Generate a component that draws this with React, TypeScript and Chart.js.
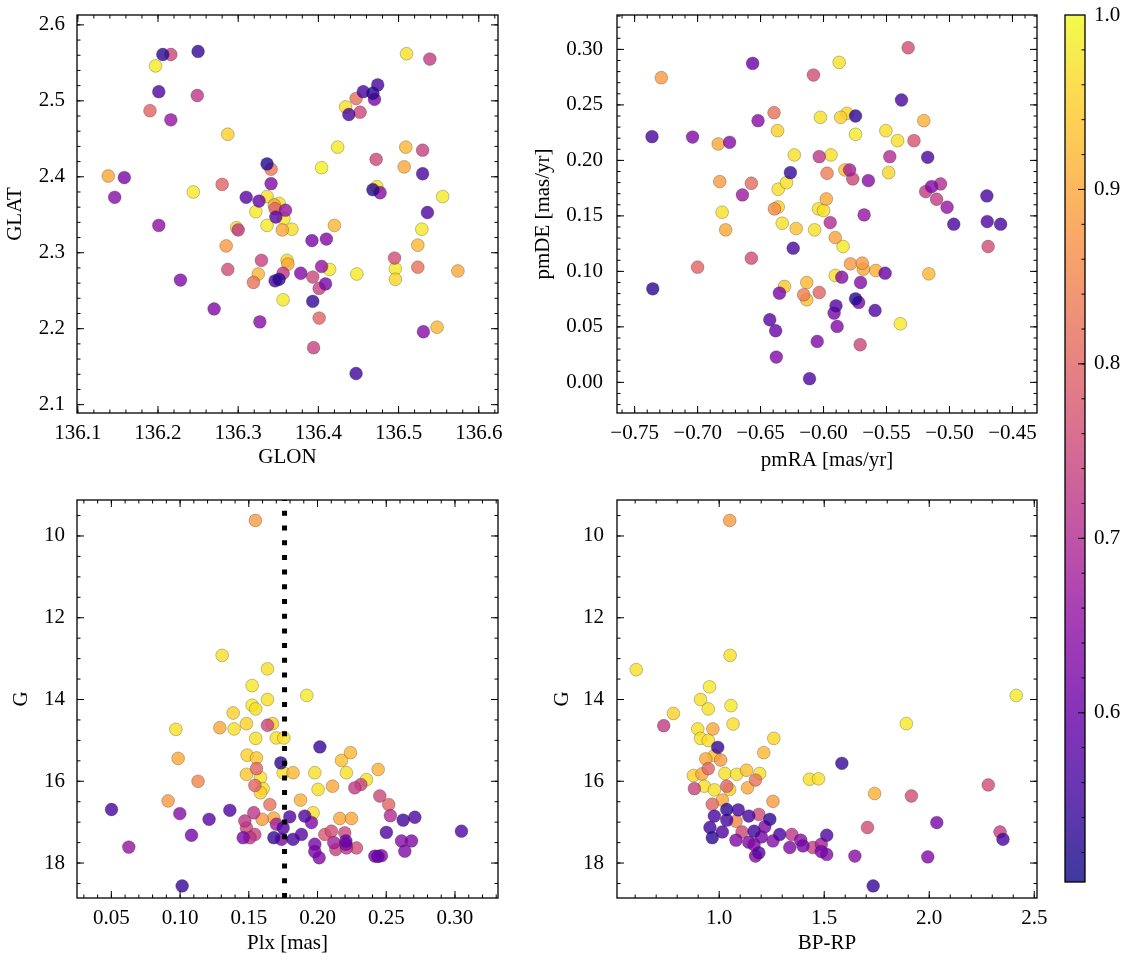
import React, { useEffect, useRef } from "react";
import { Chart, registerables } from "chart.js";

Chart.register(...registerables);

const FONT_FAMILY = '"Liberation Serif", "Times New Roman", serif';
const FONT_SIZE = 21;

// ---------- Panel 1: GLON / GLAT ----------
const glon = [
  136.206, 136.216, 136.197, 136.25, 136.201, 136.249, 136.19, 136.216, 136.287, 136.138,
  136.158, 136.146, 136.244, 136.201, 136.28, 136.228, 136.27, 136.285, 136.287, 136.3,
  136.298, 136.31, 136.326, 136.336, 136.341, 136.341, 136.322, 136.336, 136.336, 136.345,
  136.351, 136.346, 136.347, 136.359, 136.355, 136.357, 136.367, 136.424, 136.404, 136.42,
  136.392, 136.41, 136.329, 136.325, 136.319, 136.346, 136.351, 136.356, 136.362, 136.361,
  136.378, 136.356, 136.327, 136.393, 136.401, 136.404, 136.409, 136.414, 136.393, 136.401,
  136.394, 136.447, 136.448, 136.434, 136.438, 136.447, 136.452, 136.456, 136.468, 136.47,
  136.474, 136.472, 136.468, 136.473, 136.477, 136.495, 136.496, 136.496, 136.509, 136.507,
  136.51, 136.539, 136.53, 136.53, 136.536, 136.555, 136.529, 136.524, 136.524, 136.574,
  136.548, 136.531,
];
const glat = [
  2.561, 2.561, 2.546, 2.565, 2.512, 2.507, 2.487, 2.475, 2.456, 2.401,
  2.399, 2.373, 2.38, 2.336, 2.39, 2.264, 2.226, 2.309, 2.278, 2.33,
  2.333, 2.373, 2.368, 2.417, 2.41, 2.391, 2.354, 2.374, 2.336, 2.363,
  2.365, 2.358, 2.347, 2.356, 2.33, 2.345, 2.331, 2.439, 2.412, 2.336,
  2.316, 2.318, 2.29, 2.272, 2.261, 2.263, 2.265, 2.273, 2.285, 2.29,
  2.273, 2.238, 2.209, 2.268, 2.253, 2.282, 2.259, 2.278, 2.236, 2.214,
  2.175, 2.141, 2.272, 2.492, 2.482, 2.503, 2.485, 2.512, 2.51, 2.502,
  2.521, 2.423, 2.383, 2.387, 2.379, 2.293, 2.279, 2.265, 2.439, 2.413,
  2.562, 2.555, 2.435, 2.404, 2.353, 2.374, 2.331, 2.31, 2.281, 2.276,
  2.202, 2.196,
];
const probPos = [
  0.53, 0.75, 0.98, 0.54, 0.57, 0.72, 0.8, 0.66, 0.95, 0.9,
  0.62, 0.64, 0.98, 0.65, 0.8, 0.63, 0.63, 0.88, 0.76, 0.72,
  0.97, 0.58, 0.6, 0.52, 0.83, 0.63, 0.98, 0.97, 0.98, 0.9,
  0.97, 0.8, 0.58, 0.66, 0.9, 0.98, 0.97, 0.98, 0.99, 0.92,
  0.62, 0.63, 0.74, 0.92, 0.82, 0.56, 0.53, 0.72, 0.9, 0.96,
  0.63, 0.98, 0.64, 0.75, 0.74, 0.66, 0.62, 0.98, 0.54, 0.8,
  0.74, 0.55, 0.98, 0.97, 0.56, 0.82, 0.75, 0.56, 0.53, 0.62,
  0.56, 0.75, 0.52, 0.97, 0.64, 0.76, 0.98, 0.96, 0.92, 0.9,
  0.97, 0.73, 0.74, 0.56, 0.57, 0.98, 0.98, 0.92, 0.82, 0.9,
  0.92, 0.64,
];

// ---------- Panel 2: pmRA / pmDE ----------
const pmRA = [
  -0.7362, -0.7288, -0.7356, -0.704, -0.7, -0.6836, -0.6746, -0.6824, -0.6805, -0.6777,
  -0.6644, -0.6573, -0.6563, -0.652, -0.6393, -0.6365, -0.6573, -0.636, -0.639, -0.636,
  -0.6294, -0.6263, -0.6232, -0.6328, -0.6217, -0.6241, -0.631, -0.635, -0.6427, -0.638,
  -0.6375, -0.6133, -0.6133, -0.6158, -0.6034, -0.605, -0.6111, -0.608, -0.6025, -0.6034,
  -0.604, -0.6, -0.5978, -0.5972, -0.6071, -0.5941, -0.5947, -0.5907, -0.5845, -0.5876,
  -0.5864, -0.5814, -0.5746, -0.5746, -0.583, -0.5793, -0.5768, -0.5644, -0.5678, -0.5907,
  -0.5855, -0.5786, -0.5693, -0.5684, -0.5585, -0.5511, -0.5706, -0.5746, -0.5721, -0.5901,
  -0.5916, -0.5892, -0.5709, -0.5591, -0.539, -0.5505, -0.5412, -0.5483, -0.5474, -0.5381,
  -0.5328, -0.5282, -0.5204, -0.5173, -0.5189, -0.5142, -0.5071, -0.5102, -0.5019, -0.4966,
  -0.5164, -0.4703, -0.47, -0.4594, -0.4693,
];
const pmDE = [
  0.2214, 0.2745, 0.0843, 0.221, 0.1038, 0.2148, 0.2163, 0.1809, 0.1533, 0.1374,
  0.1689, 0.1794, 0.2874, 0.2358, 0.243, 0.2268, 0.1119, 0.158, 0.1563, 0.174,
  0.18, 0.189, 0.2049, 0.1434, 0.1386, 0.1209, 0.0864, 0.0804, 0.0564, 0.0465,
  0.0228, 0.09, 0.0744, 0.0789, 0.081, 0.0369, 0.0033, 0.2769, 0.2388, 0.2034,
  0.1563, 0.1548, 0.1653, 0.1884, 0.1374, 0.2049, 0.144, 0.1305, 0.1224, 0.2883,
  0.2388, 0.2424, 0.24, 0.2235, 0.1914, 0.1914, 0.1833, 0.1818, 0.1509, 0.0963,
  0.0948, 0.1068, 0.1074, 0.102, 0.1008, 0.0984, 0.09, 0.0753, 0.072, 0.069,
  0.0624, 0.0504, 0.0339, 0.0648, 0.0528, 0.2268, 0.2178, 0.189, 0.2034, 0.2544,
  0.3015, 0.2178, 0.2358, 0.2028, 0.1719, 0.1764, 0.1788, 0.165, 0.1578, 0.1425,
  0.0978, 0.168, 0.1449, 0.1425, 0.1224,
];
const probPM = [
  0.56, 0.88, 0.53, 0.63, 0.8, 0.9, 0.64, 0.88, 0.97, 0.9,
  0.67, 0.81, 0.6, 0.64, 0.82, 0.95, 0.76, 0.95, 0.86, 0.97,
  0.97, 0.54, 0.97, 0.97, 0.93, 0.56, 0.94, 0.62, 0.58, 0.6,
  0.63, 0.92, 0.93, 0.84, 0.8, 0.63, 0.57, 0.76, 0.97, 0.72,
  0.97, 0.97, 0.9, 0.84, 0.97, 0.97, 0.7, 0.89, 0.98, 0.97,
  0.95, 0.96, 0.53, 0.98, 0.93, 0.68, 0.75, 0.64, 0.66, 0.97,
  0.64, 0.88, 0.88, 0.9, 0.91, 0.6, 0.64, 0.52, 0.62, 0.57,
  0.62, 0.63, 0.75, 0.57, 0.98, 0.97, 0.97, 0.96, 0.7, 0.56,
  0.76, 0.77, 0.91, 0.56, 0.73, 0.63, 0.7, 0.73, 0.66, 0.56,
  0.92, 0.56, 0.57, 0.56, 0.76,
];

// ---------- Panel 3: Plx / G ----------
const plx = [
  0.1548, 0.1306, 0.1636, 0.1524, 0.1636, 0.1922, 0.1524, 0.155, 0.1386, 0.0969,
  0.1289, 0.1393, 0.1483, 0.1636, 0.1672, 0.155, 0.17, 0.1755, 0.0986, 0.1488,
  0.1556, 0.1733, 0.1556, 0.2017, 0.1131, 0.1483, 0.1585, 0.1544, 0.1604, 0.1585,
  0.175, 0.1822, 0.198, 0.2004, 0.2109, 0.2174, 0.224, 0.221, 0.2356, 0.2441,
  0.2271, 0.2315, 0.0913, 0.1653, 0.1876, 0.1968, 0.1682, 0.1597, 0.1536, 0.0501,
  0.0998, 0.1211, 0.1362, 0.1083, 0.0627, 0.1015, 0.2162, 0.2247, 0.2453, 0.2518,
  0.253, 0.2623, 0.2708, 0.2501, 0.3047, 0.2611, 0.2684, 0.2635, 0.2417, 0.2465,
  0.244, 0.198, 0.198, 0.2012, 0.2053, 0.2101, 0.2198, 0.2118, 0.2206, 0.2133,
  0.2211, 0.2283, 0.2206, 0.1798, 0.1907, 0.1956, 0.1883, 0.1822, 0.175, 0.1701,
  0.1682, 0.1738, 0.1471, 0.1483, 0.1544, 0.1459, 0.1508,
];
const gPlx = [
  9.62, 12.92, 13.25, 13.66, 14.0, 13.9, 14.14, 14.23, 14.33, 14.73,
  14.69, 14.72, 14.59, 14.63, 14.59, 14.95, 14.94, 14.94, 15.44, 15.36,
  15.43, 15.55, 15.69, 15.16, 16.0, 15.83, 15.91, 16.1, 16.18, 16.28,
  15.79, 15.79, 15.79, 16.2, 16.12, 15.49, 15.3, 15.79, 15.96, 15.71,
  16.16, 16.08, 16.48, 16.57, 16.46, 16.77, 16.9, 16.93, 16.77, 16.69,
  16.79, 16.93, 16.71, 17.32, 17.61, 18.56, 16.91, 16.91, 16.36, 16.57,
  16.84, 16.95, 16.88, 17.25, 17.22, 17.46, 17.46, 17.71, 17.83, 17.82,
  17.84, 17.54, 17.72, 17.87, 17.3, 17.22, 17.26, 17.5, 17.54, 17.67,
  17.63, 17.63, 17.46, 16.87, 16.85, 17.01, 17.3, 17.42, 17.14, 17.05,
  17.38, 17.42, 16.97, 17.14, 17.3, 17.38, 17.38,
];
const probPlx = [
  0.88, 0.97, 0.97, 0.98, 0.97, 0.98, 0.98, 0.97, 0.95, 0.97,
  0.9, 0.97, 0.95, 0.75, 0.95, 0.97, 0.97, 0.97, 0.9, 0.95,
  0.94, 0.53, 0.8, 0.54, 0.85, 0.94, 0.97, 0.8, 0.97, 0.95,
  0.97, 0.92, 0.97, 0.97, 0.9, 0.93, 0.92, 0.97, 0.97, 0.91,
  0.73, 0.74, 0.88, 0.82, 0.91, 0.97, 0.9, 0.88, 0.72, 0.56,
  0.64, 0.58, 0.57, 0.62, 0.66, 0.54, 0.9, 0.9, 0.75, 0.8,
  0.7, 0.55, 0.57, 0.57, 0.57, 0.64, 0.63, 0.63, 0.62, 0.64,
  0.6, 0.62, 0.62, 0.63, 0.78, 0.76, 0.75, 0.68, 0.64, 0.74,
  0.72, 0.76, 0.6, 0.57, 0.57, 0.63, 0.58, 0.56, 0.57, 0.68,
  0.54, 0.63, 0.72, 0.75, 0.74, 0.62, 0.72,
];
const PLX_CUT = 0.176;

// ---------- Panel 4: BP-RP / G ----------
const bpRp = [
  1.05, 1.052, 0.605, 0.954, 0.911, 0.948, 1.056, 0.782, 0.736, 0.898,
  0.97, 1.066, 0.911, 0.948, 1.26, 0.993, 1.212, 1.584, 1.891, 2.414,
  1.74, 1.915, 2.281, 1.706, 2.036, 2.337, 2.351, 1.993, 1.646, 1.733,
  1.43, 1.473, 1.256, 0.936, 1.007, 0.977, 0.948, 0.877, 0.918, 1.027,
  1.083, 1.13, 1.193, 1.173, 1.135, 1.036, 1.05, 0.882, 0.929, 0.977,
  1.015, 0.967, 1.036, 1.091, 0.977, 1.036, 1.08, 1.141, 1.189, 1.241,
  1.217, 0.956, 0.967, 1.015, 1.109, 1.166, 1.201, 1.08, 1.141, 1.166,
  1.189, 1.173, 1.256, 1.288, 1.346, 1.336, 1.388, 1.399, 1.446, 1.486,
  1.486, 1.512, 1.512,
];
const gCmd = [
  9.62, 12.92, 13.27, 13.69, 14.0, 14.23, 14.15, 14.34, 14.64, 14.72,
  14.72, 14.6, 14.95, 15.0, 14.95, 15.17, 15.3, 15.56, 14.59, 13.9,
  16.3, 16.36, 16.09, 17.13, 17.01, 17.24, 17.42, 17.85, 17.83, 18.56,
  15.95, 15.94, 16.49, 15.45, 15.48, 15.37, 15.69, 15.86, 15.82, 15.81,
  15.83, 15.73, 15.81, 15.97, 16.16, 16.12, 16.2, 16.18, 16.12, 16.21,
  16.46, 16.56, 16.69, 16.7, 16.85, 16.95, 16.98, 16.85, 16.81, 16.93,
  17.11, 17.13, 17.38, 17.24, 17.24, 17.22, 17.36, 17.44, 17.49, 17.55,
  17.75, 17.83, 17.46, 17.3, 17.3, 17.62, 17.44, 17.58, 17.62, 17.54,
  17.72, 17.32, 17.79,
];
const probCmd = [
  0.88, 0.97, 0.97, 0.98, 0.97, 0.97, 0.98, 0.95, 0.73, 0.97,
  0.9, 0.97, 0.97, 0.97, 0.96, 0.54, 0.92, 0.54, 0.98, 0.98,
  0.91, 0.76, 0.76, 0.76, 0.62, 0.74, 0.56, 0.63, 0.64, 0.54,
  0.97, 0.97, 0.88, 0.9, 0.88, 0.93, 0.8, 0.95, 0.9, 0.97,
  0.97, 0.93, 0.97, 0.82, 0.9, 0.8, 0.95, 0.74, 0.97, 0.97,
  0.9, 0.8, 0.53, 0.56, 0.56, 0.56, 0.85, 0.56, 0.76, 0.53,
  0.63, 0.55, 0.53, 0.57, 0.75, 0.55, 0.62, 0.63, 0.63, 0.63,
  0.58, 0.63, 0.64, 0.56, 0.72, 0.63, 0.64, 0.62, 0.74, 0.68,
  0.62, 0.57, 0.64,
];

// ---------- Ticks ----------
const glonTicks = [136.1, 136.2, 136.3, 136.4, 136.5, 136.6];
const glatTicks = [2.1, 2.2, 2.3, 2.4, 2.5, 2.6];
const pmraTicks = [-0.75, -0.7, -0.65, -0.6, -0.55, -0.5, -0.45];
const pmdeTicks = [0, 0.05, 0.1, 0.15, 0.2, 0.25, 0.3];
const plxTicks = [0.05, 0.1, 0.15, 0.2, 0.25, 0.3];
const gTicks = [10, 12, 14, 16, 18];
const bprpTicks = [1.0, 1.5, 2.0, 2.5];
const cbarTicks = [0.6, 0.7, 0.8, 0.9, 1.0];

const PROB_MIN = 0.503;
const PROB_MAX = 1.0;
const ALPHA = 0.8;

const PLASMA = [
  [13, 8, 135], [65, 4, 157], [106, 0, 168], [143, 13, 164], [177, 42, 144],
  [204, 71, 120], [225, 100, 98], [242, 132, 75], [252, 166, 54], [252, 206, 37],
  [240, 249, 33],
];

function plasmaRGB(t: number) {
  const c = Math.max(0, Math.min(1, t)) * 10;
  const i = Math.min(9, Math.floor(c));
  const f = c - i;
  const a = PLASMA[i];
  const b = PLASMA[i + 1];
  return [0, 1, 2].map((k) => Math.round(a[k] + (b[k] - a[k]) * f));
}
function probColor(p: number, alpha = ALPHA) {
  const [r, g, b] = plasmaRGB((p - PROB_MIN) / (PROB_MAX - PROB_MIN));
  return `rgba(${r},${g},${b},${alpha})`;
}
function fmt(v: number, d: number) {
  return Number(v).toFixed(d).replace("-", "\u2212");
}
const font = { family: FONT_FAMILY, size: FONT_SIZE, lineHeight: 1.2 };

function minorValues(min: number, max: number, step: number) {
  const out: number[] = [];
  const start = Math.ceil(min / step - 1e-6);
  for (let k = start; k * step <= max + 1e-9; k++) out.push(k * step);
  return out;
}

type Area = { left: number; top: number; right: number; bottom: number };

function axesPlugin(xMajor: number[], yMajor: number[], xMinor: number, yMinor: number) {
  return {
    id: "sciAxes",
    afterDatasetsDraw(chart: any) {
      const { ctx, chartArea } = chart;
      const { left, right, top, bottom } = chartArea;
      const xs = chart.scales.x;
      const ys = chart.scales.y;
      const line = (x1: number, y1: number, x2: number, y2: number) => {
        ctx.beginPath();
        ctx.moveTo(x1, y1);
        ctx.lineTo(x2, y2);
        ctx.stroke();
      };
      ctx.save();
      ctx.strokeStyle = "#000";
      ctx.lineWidth = 1.0;
      const drawX = (vals: number[], len: number) =>
        vals.forEach((v) => {
          const px = xs.getPixelForValue(v);
          if (px < left + 0.5 || px > right - 0.5) return;
          line(px, bottom, px, bottom - len);
          line(px, top, px, top + len);
        });
      const drawY = (vals: number[], len: number) =>
        vals.forEach((v) => {
          const py = ys.getPixelForValue(v);
          if (py < top + 0.5 || py > bottom - 0.5) return;
          line(left, py, left + len, py);
          line(right, py, right - len, py);
        });
      drawX(minorValues(xs.min, xs.max, xMinor), 3.5);
      drawY(minorValues(ys.min, ys.max, yMinor), 3.5);
      drawX(xMajor, 7);
      drawY(yMajor, 7);
      ctx.lineWidth = 1.3;
      ctx.strokeRect(left, top, right - left, bottom - top);
      ctx.restore();
    },
  };
}

type PanelSpec = {
  xs: number[]; ys: number[]; ps: number[];
  xMin: number; xMax: number; yMin: number; yMax: number; reverse?: boolean;
  xTicks: number[]; yTicks: number[]; xMinor: number; yMinor: number;
  xDec: number; yDec: number; xTitle: string; yTitle: string;
  canvasW: number; canvasH: number; area: Area;
  xTitlePad: number; yTitlePad: number; yTickPad: number;
  vline?: number;
};

function buildPanel(s: PanelSpec) {
  const idx = s.xs.map((_, i) => i).sort((a, b) => s.ps[b] - s.ps[a]);
  const datasets: any[] = [];
  if (s.vline !== undefined) {
    datasets.push({
      data: [
        { x: s.vline, y: s.reverse ? s.yMax : s.yMin },
        { x: s.vline, y: s.reverse ? s.yMin : s.yMax },
      ],
      showLine: true,
      borderColor: "#000",
      borderWidth: 5,
      borderDash: [5, 9.7],
      borderCapStyle: "butt",
      pointRadius: 0,
      order: 0,
    });
  }
  datasets.push({
    data: idx.map((i) => ({ x: s.xs[i], y: s.ys[i] })),
    pointBackgroundColor: idx.map((i) => probColor(s.ps[i])),
    pointBorderColor: "rgba(30,30,30,0.45)",
    pointBorderWidth: 0.6,
    pointRadius: 6.4,
    showLine: false,
    order: 1,
  });
  return {
    type: "scatter",
    data: { datasets },
    plugins: [axesPlugin(s.xTicks, s.yTicks, s.xMinor, s.yMinor)],
    options: {
      responsive: false,
      animation: false,
      events: [],
      devicePixelRatio: 1,
      layout: { padding: { left: 0, top: s.area.top, right: s.canvasW - s.area.right, bottom: 0 } },
      plugins: { legend: { display: false }, tooltip: { enabled: false } },
      scales: {
        x: {
          type: "linear",
          position: "bottom",
          min: s.xMin,
          max: s.xMax,
          grid: { display: false, drawTicks: false },
          border: { display: false },
          ticks: { padding: 8, font, color: "#000", autoSkip: false, maxRotation: 0, callback: (v: any) => fmt(v, s.xDec) },
          afterBuildTicks: (sc: any) => { sc.ticks = s.xTicks.map((v) => ({ value: v })); },
          afterFit: (sc: any) => {
            sc.height = s.canvasH - s.area.bottom;
            sc.paddingLeft = 0; sc.paddingRight = 0; sc.paddingTop = 0; sc.paddingBottom = 0;
          },
          title: { display: true, text: s.xTitle, font, color: "#000", padding: { top: 0, bottom: s.xTitlePad } },
        },
        y: {
          type: "linear",
          position: "left",
          min: s.yMin,
          max: s.yMax,
          reverse: !!s.reverse,
          grid: { display: false, drawTicks: false },
          border: { display: false },
          ticks: { padding: s.yTickPad, font, color: "#000", autoSkip: false, callback: (v: any) => fmt(v, s.yDec) },
          afterBuildTicks: (sc: any) => { sc.ticks = s.yTicks.map((v) => ({ value: v })); },
          afterFit: (sc: any) => {
            sc.width = s.area.left;
            sc.paddingLeft = 0; sc.paddingRight = 0; sc.paddingTop = 0; sc.paddingBottom = 0;
          },
          title: { display: true, text: s.yTitle, font, color: "#000", padding: { top: s.yTitlePad, bottom: 0 } },
        },
      },
    },
  };
}

function buildColorbar(canvasW: number, canvasH: number, area: Area) {
  const cbPlugin = {
    id: "colorbar",
    beforeDatasetsDraw(chart: any) {
      const { ctx, chartArea } = chart;
      const { left, right, top, bottom } = chartArea;
      const ys = chart.scales.y;
      const g = ctx.createLinearGradient(0, ys.getPixelForValue(PROB_MIN), 0, ys.getPixelForValue(PROB_MAX));
      PLASMA.forEach((c, i) => g.addColorStop(i / 10, `rgba(${c[0]},${c[1]},${c[2]},${ALPHA})`));
      ctx.save();
      ctx.fillStyle = g;
      ctx.fillRect(left, top, right - left, bottom - top);
      ctx.restore();
    },
    afterDraw(chart: any) {
      const { ctx, chartArea } = chart;
      const { left, right, top, bottom } = chartArea;
      const ys = chart.scales.y;
      ctx.save();
      ctx.strokeStyle = "#000";
      ctx.lineWidth = 1.0;
      const tick = (v: number, len: number) => {
        const py = ys.getPixelForValue(v);
        if (py < top + 0.5 || py > bottom - 0.5) return;
        ctx.beginPath();
        ctx.moveTo(right, py);
        ctx.lineTo(right - len, py);
        ctx.stroke();
      };
      minorValues(ys.min, ys.max, 0.02).forEach((v) => tick(v, 3.5));
      cbarTicks.forEach((v) => tick(v, 7));
      ctx.lineWidth = 1.3;
      ctx.strokeRect(left, top, right - left, bottom - top);
      ctx.restore();
    },
  };
  return {
    type: "scatter",
    data: { datasets: [] },
    plugins: [cbPlugin],
    options: {
      responsive: false,
      animation: false,
      events: [],
      devicePixelRatio: 1,
      layout: { padding: { left: area.left, top: area.top, right: 0, bottom: canvasH - area.bottom } },
      plugins: { legend: { display: false }, tooltip: { enabled: false } },
      scales: {
        x: { type: "linear", display: false, min: 0, max: 1 },
        y: {
          type: "linear",
          position: "right",
          min: PROB_MIN,
          max: PROB_MAX,
          grid: { display: false, drawTicks: false },
          border: { display: false },
          ticks: { padding: 9, font, color: "#000", autoSkip: false, callback: (v: any) => fmt(v, 1) },
          afterBuildTicks: (sc: any) => { sc.ticks = cbarTicks.map((v) => ({ value: v })); },
          afterFit: (sc: any) => {
            sc.width = canvasW - area.right;
            sc.paddingLeft = 0; sc.paddingRight = 0; sc.paddingTop = 0; sc.paddingBottom = 0;
          },
        },
      },
    },
  };
}

function ChartBox(props: { left: number; top: number; width: number; height: number; make: () => any }) {
  const ref = useRef<HTMLCanvasElement>(null);
  useEffect(() => {
    if (!ref.current) return;
    const chart = new Chart(ref.current, props.make());
    return () => chart.destroy();
  }, []);
  return (
    <canvas
      ref={ref}
      width={props.width}
      height={props.height}
      style={{ position: "absolute", left: props.left, top: props.top, width: props.width, height: props.height }}
    />
  );
}

const W = 560;
const H = 480;
const AREA_L: Area = { left: 77, top: 15, right: 498, bottom: 413 };
const AREA_R: Area = { left: 97, top: 15, right: 517, bottom: 413 };

export default function App() {
  Chart.defaults.font.family = FONT_FAMILY;
  Chart.defaults.color = "#000";
  return (
    <div style={{ position: "absolute", left: 0, top: 0, width: 1133, height: 965, background: "#fff" }}>
      <ChartBox left={0} top={0} width={W} height={H} make={() => buildPanel({
        xs: glon, ys: glat, ps: probPos,
        xMin: 136.099, xMax: 136.624, yMin: 2.089, yMax: 2.613,
        xTicks: glonTicks, yTicks: glatTicks, xMinor: 0.02, yMinor: 0.02, xDec: 1, yDec: 1,
        xTitle: "GLON", yTitle: "GLAT", canvasW: W, canvasH: H, area: AREA_L,
        xTitlePad: 10, yTitlePad: 3, yTickPad: 12,
      })} />
      <ChartBox left={520} top={0} width={W} height={H} make={() => buildPanel({
        xs: pmRA, ys: pmDE, ps: probPM,
        xMin: -0.764, xMax: -0.4305, yMin: -0.0276, yMax: 0.331,
        xTicks: pmraTicks, yTicks: pmdeTicks, xMinor: 0.01, yMinor: 0.01, xDec: 2, yDec: 2,
        xTitle: "pmRA [mas/yr]", yTitle: "pmDE [mas/yr]", canvasW: W, canvasH: H, area: AREA_R,
        xTitlePad: 7, yTitlePad: 11, yTickPad: 14,
      })} />
      <ChartBox left={0} top={485} width={W} height={H} make={() => buildPanel({
        xs: plx, ys: gPlx, ps: probPlx,
        xMin: 0.025, xMax: 0.3313, yMin: 9.12, yMax: 18.855, reverse: true,
        xTicks: plxTicks, yTicks: gTicks, xMinor: 0.01, yMinor: 0.5, xDec: 2, yDec: 0,
        xTitle: "Plx [mas]", yTitle: "G", canvasW: W, canvasH: H, area: AREA_L,
        xTitlePad: 9, yTitlePad: 9, yTickPad: 12, vline: PLX_CUT,
      })} />
      <ChartBox left={520} top={485} width={W} height={H} make={() => buildPanel({
        xs: bpRp, ys: gCmd, ps: probCmd,
        xMin: 0.5135, xMax: 2.513, yMin: 9.12, yMax: 18.855, reverse: true,
        xTicks: bprpTicks, yTicks: gTicks, xMinor: 0.1, yMinor: 0.5, xDec: 1, yDec: 0,
        xTitle: "BP-RP", yTitle: "G", canvasW: W, canvasH: H, area: AREA_R,
        xTitlePad: 9, yTitlePad: 30, yTickPad: 13,
      })} />
      <ChartBox left={1040} top={0} width={93} height={965} make={() => buildColorbar(93, 965, { left: 25, top: 15, right: 45, bottom: 882 })} />
    </div>
  );
}
